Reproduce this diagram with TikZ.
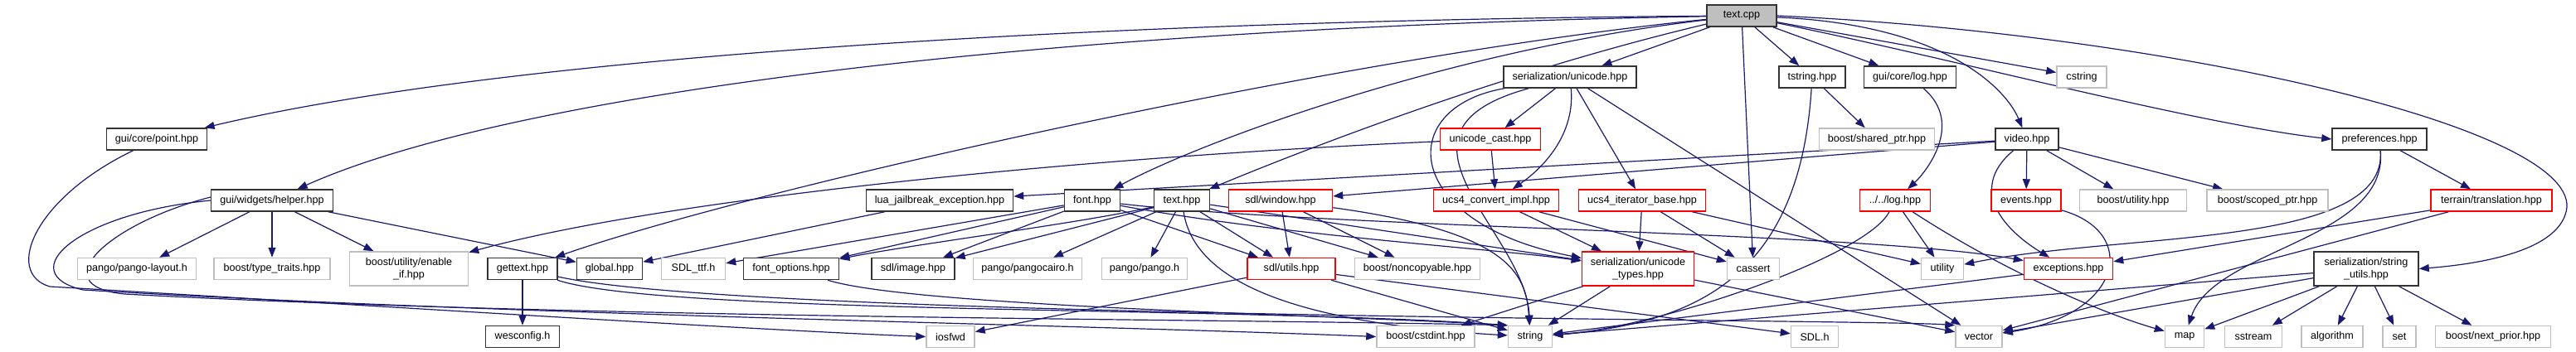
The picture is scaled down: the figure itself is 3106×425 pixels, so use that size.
\documentclass[tikz,border=0pt]{standalone}
\usepackage{fontspec}
\setmainfont{Liberation Sans}
\usepackage{tikz}
\usetikzlibrary{arrows.meta, positioning}
\definecolor{edgeblue}{HTML}{191970}
\definecolor{sysgray}{HTML}{BFBFBF}
\definecolor{rootgray}{HTML}{BFBFBF}
\pgfdeclarelayer{bg}
\pgfsetlayers{bg,main}
\tikzset{
  file/.style={draw=black!80, line width=1.5pt, fill=white, minimum height=26, inner sep=0pt,
    font=\fontsize{12.6}{15}\selectfont},
  sysfile/.style={file, draw=sysgray},
  truncfile/.style={file, draw=red},
  rootfile/.style={file, fill=rootgray},
  twoline/.style={align=center, minimum height=41},
  dep/.style={draw=edgeblue, line width=1.2pt, -{Triangle[length=12pt,width=9pt]}},
}
\begin{document}
\begin{tikzpicture}[x=1pt, y=-1pt]
    \useasboundingbox (0,0) rectangle (3106,425);

    % row 1 and 2
    \node[rootfile, minimum width=84] (textcpp) at (2100,19) {text.cpp};
    \node[file, minimum width=160] (unicode) at (1893,93) {serialization/unicode.hpp};
    \node[file, minimum width=80] (tstring) at (2185,93) {tstring.hpp};
    \node[file, minimum width=111] (guilog) at (2303,93) {gui/core/log.hpp};
    \node[sysfile, minimum width=60] (cstring) at (2510,93) {cstring};

    % row 3
    \node[file, minimum width=121] (point) at (189,168) {gui/core/point.hpp};
    \node[truncfile, minimum width=121] (ucast) at (1797,168) {unicode\_cast.hpp};
    \node[sysfile, minimum width=139] (sharedptr) at (2263,168) {boost/shared\_ptr.hpp};
    \node[file, minimum width=76] (video) at (2444,168) {video.hpp};
    \node[file, minimum width=114] (prefs) at (2869,168) {preferences.hpp};

    % row 4
    \node[file, minimum width=147] (helper) at (328,242) {gui/widgets/helper.hpp};
    \node[file, minimum width=177] (luajail) at (1133,242) {lua\_jailbreak\_exception.hpp};
    \node[file, minimum width=67] (font) at (1317,242) {font.hpp};
    \node[file, minimum width=67] (texthpp) at (1425,242) {text.hpp};
    \node[truncfile, minimum width=125] (window) at (1544,242) {sdl/window.hpp};
    \node[truncfile, minimum width=151] (convert) at (1804,242) {ucs4\_convert\_impl.hpp};
    \node[truncfile, minimum width=153] (iterbase) at (1980,242) {ucs4\_iterator\_base.hpp};
    \node[truncfile, minimum width=85] (log) at (2285,242) {../../log.hpp};
    \node[truncfile, minimum width=84] (events) at (2443,242) {events.hpp};
    \node[sysfile, minimum width=129] (butility) at (2572,242) {boost/utility.hpp};
    \node[sysfile, minimum width=146] (scoped) at (2734,242) {boost/scoped\_ptr.hpp};
    \node[truncfile, minimum width=146] (translation) at (3004,242) {terrain/translation.hpp};

    % row 5
    \node[sysfile, minimum width=143] (pangolayout) at (165,324.5) {pango/pango-layout.h};
    \node[sysfile, minimum width=140] (typetraits) at (328,324.5) {boost/type\_traits.hpp};
    \node[sysfile, twoline, minimum width=143] (enableif) at (493,324.5) {boost/utility/enable\\\_if.hpp};
    \node[file, minimum width=84] (gettext) at (630,324.5) {gettext.hpp};
    \node[file, minimum width=79] (global) at (735,324.5) {global.hpp};
    \node[sysfile, minimum width=77] (sdlttf) at (836,324.5) {SDL\_ttf.h};
    \node[file, minimum width=115] (fontopts) at (954,324.5) {font\_options.hpp};
    \node[file, minimum width=100] (image) at (1101,324.5) {sdl/image.hpp};
    \node[sysfile, minimum width=131] (pangocairo) at (1239,324.5) {pango/pangocairo.h};
    \node[sysfile, minimum width=103] (pango) at (1380,324.5) {pango/pango.h};
    \node[truncfile, minimum width=106] (utils) at (1557,324.5) {sdl/utils.hpp};
    \node[sysfile, minimum width=151] (noncopy) at (1709,324.5) {boost/noncopyable.hpp};
    \node[truncfile, twoline, minimum width=135] (utypes) at (1975,324.5) {serialization/unicode\\\_types.hpp};
    \node[sysfile, minimum width=63] (cassert) at (2114,324.5) {cassert};
    \node[sysfile, minimum width=51] (utility) at (2342,324.5) {utility};
    \node[truncfile, minimum width=107] (exceptions) at (2494,324.5) {exceptions.hpp};
    \node[file, twoline, minimum width=126] (strutils) at (2853,324.5) {serialization/string\\\_utils.hpp};

    % row 6
    \node[file, minimum width=89] (wesconfig) at (630,406.5) {wesconfig.h};
    \node[sysfile, minimum width=58] (iosfwd) at (1146,406.5) {iosfwd};
    \node[sysfile, minimum width=118] (cstdint) at (1719,406.5) {boost/cstdint.hpp};
    \node[sysfile, minimum width=53] (string) at (1845,406.5) {string};
    \node[sysfile, minimum width=57] (sdlh) at (2188,406.5) {SDL.h};
    \node[sysfile, minimum width=56] (vector) at (2386,406.5) {vector};
    \node[sysfile, minimum width=47] (map) at (2634,406.5) {map};
    \node[sysfile, minimum width=69] (sstream) at (2717,406.5) {sstream};
    \node[sysfile, minimum width=74] (algorithm) at (2812,406.5) {algorithm};
    \node[sysfile, minimum width=40] (set) at (2893,406.5) {set};
    \node[sysfile, minimum width=139] (nextprior) at (3006,406.5) {boost/next\_prior.hpp};

    \begin{pgfonlayer}{bg}
    % text.cpp
    \draw[dep] (textcpp) .. controls (1300,25) and (600,70) .. (point);
    \draw[dep] (textcpp) .. controls (1200,35) and (600,120) .. (helper);
    \draw[dep] (textcpp) .. controls (1600,70) and (900,230) .. (gettext);
    \draw[dep] (textcpp) .. controls (1750,60) and (1450,170) .. (font);
    \draw[dep] (textcpp) .. controls (1800,90) and (1550,190) .. (texthpp);
    \draw[dep] (textcpp) -- (unicode);
    \draw[dep] (textcpp) -- (tstring);
    \draw[dep] (textcpp) -- (guilog);
    \draw[dep] (textcpp) -- (cstring);
    \draw[dep] (textcpp) .. controls (2350,30) and (2420,110) .. (video);
    \draw[dep] (textcpp) .. controls (2350,70) and (2650,150) .. (prefs.west);
    \draw[dep] (textcpp) -- (cassert);
    \draw[dep] (textcpp.east) .. controls (2600,40) and (3100,150) .. (3095,250)
        .. controls (3090,300) and (3000,318) .. (strutils.east);

    % serialization/unicode.hpp
    \draw[dep] (unicode) -- (ucast);
    \draw[dep] (unicode) .. controls (1900,170) and (1850,210) .. (convert);
    \draw[dep] (unicode) -- (iterbase);
    \draw[dep] (unicode) -- (vector);
    \draw[dep] (unicode) .. controls (1680,130) and (1690,270) .. (utypes);
    \draw[dep] (unicode) .. controls (1650,160) and (1840,280) .. (string);
    \draw[dep] (ucast) -- (convert);
    \draw[dep] (ucast) .. controls (1300,190) and (800,240) .. (enableif);
    \draw[dep] (convert) -- (utypes);
    \draw[dep] (convert) -- (cassert);
    \draw[dep] (iterbase) -- (utypes);
    \draw[dep] (iterbase) -- (cassert);
    \draw[dep] (iterbase) -- (utility);
    \draw[dep] (utypes) -- (string);
    \draw[dep] (utypes) -- (cstdint);
    \draw[dep] (utypes) -- (vector);

    % tstring, log
    \draw[dep] (tstring) -- (sharedptr);
    \draw[dep] (tstring) .. controls (2170,330) and (2050,390) .. (string);
    \draw[dep] (guilog) .. controls (2370,150) and (2320,210) .. (log);
    \draw[dep] (log) .. controls (2250,310) and (2000,395) .. (string);
    \draw[dep] (log) -- (utility);
    \draw[dep] (log) .. controls (2420,330) and (2540,380) .. (map);

    % video.hpp
    \draw[dep] (video) -- (luajail);
    \draw[dep] (video) -- (window);
    \draw[dep] (video) -- (events);
    \draw[dep] (video) -- (butility);
    \draw[dep] (video) -- (scoped);
    \draw[dep] (video) .. controls (2370,230) and (2420,280) .. (exceptions);
    \draw[dep] (events) .. controls (2580,280) and (2560,380) .. (vector);

    % preferences.hpp
    \draw[dep] (prefs) -- (translation);
    \draw[dep] (prefs) .. controls (2880,300) and (2560,280) .. (utility);
    \draw[dep] (prefs) .. controls (2880,290) and (2670,300) .. (map);
    \draw[dep] (translation) -- (exceptions);
    \draw[dep] (translation) -- (vector);
    \draw[dep] (exceptions) -- (string);

    % serialization/string_utils.hpp
    \draw[dep] (strutils) -- (map);
    \draw[dep] (strutils) -- (sstream);
    \draw[dep] (strutils) -- (algorithm);
    \draw[dep] (strutils) -- (set);
    \draw[dep] (strutils) -- (nextprior);
    \draw[dep] (strutils) -- (vector);
    \draw[dep] (strutils) -- (string);

    % gui/widgets/helper.hpp, gui/core/point.hpp
    \draw[dep] (helper) -- (pangolayout);
    \draw[dep] (helper) -- (typetraits);
    \draw[dep] (helper) -- (enableif);
    \draw[dep] (helper) -- (global);
    \draw[dep] (helper.west) .. controls (90,258) and (15,330) .. (100,350)
        .. controls (600,380) and (1300,392) .. (cstdint.west);
    \draw[dep] ([yshift=4]helper.west) .. controls (130,270) and (50,345) .. (150,355)
        .. controls (700,385) and (1500,385) .. (string.north west);
    \draw[dep] (point) .. controls (40,240) and (5,330) .. (60,346)
        .. controls (400,366) and (900,398) .. (iosfwd.west);
    \draw[dep] (luajail) -- (global);

    % font.hpp, text.hpp
    \draw[dep] (font) -- (sdlttf);
    \draw[dep] (font) -- (fontopts);
    \draw[dep] (font) -- (image);
    \draw[dep] (font) -- (utils);
    \draw[dep] (font) .. controls (1600,275) and (2250,280) .. (exceptions);
    \draw[dep] (font) .. controls (1550,285) and (1800,300) .. (utypes);
    \draw[dep] (texthpp) .. controls (1300,270) and (1100,295) .. (fontopts);
    \draw[dep] (texthpp) -- (image);
    \draw[dep] (texthpp) -- (pangocairo);
    \draw[dep] (texthpp) -- (pango);
    \draw[dep] (texthpp) -- (utils);
    \draw[dep] (texthpp) -- (noncopy);
    \draw[dep] (texthpp) -- (utypes);
    \draw[dep] (texthpp) .. controls (1440,340) and (1560,390) .. (string);

    % sdl
    \draw[dep] (window) -- (utils);
    \draw[dep] (window) -- (noncopy);
    \draw[dep] (window) .. controls (1820,280) and (1840,330) .. (string);
    \draw[dep] (utils) -- (iosfwd);
    \draw[dep] (utils) -- (string);
    \draw[dep] (utils) -- (sdlh);

    % gettext.hpp, font_options.hpp
    \draw[dep] (gettext) -- (wesconfig);
    \draw[dep] (gettext) .. controls (800,380) and (1500,370) .. (string.north west);
    \draw[dep] (gettext) .. controls (900,385) and (2250,385) .. (vector.north west);
    \draw[dep] (fontopts) .. controls (1100,370) and (1600,380) .. (string.north west);
    \end{pgfonlayer}
\end{tikzpicture}
\end{document}
